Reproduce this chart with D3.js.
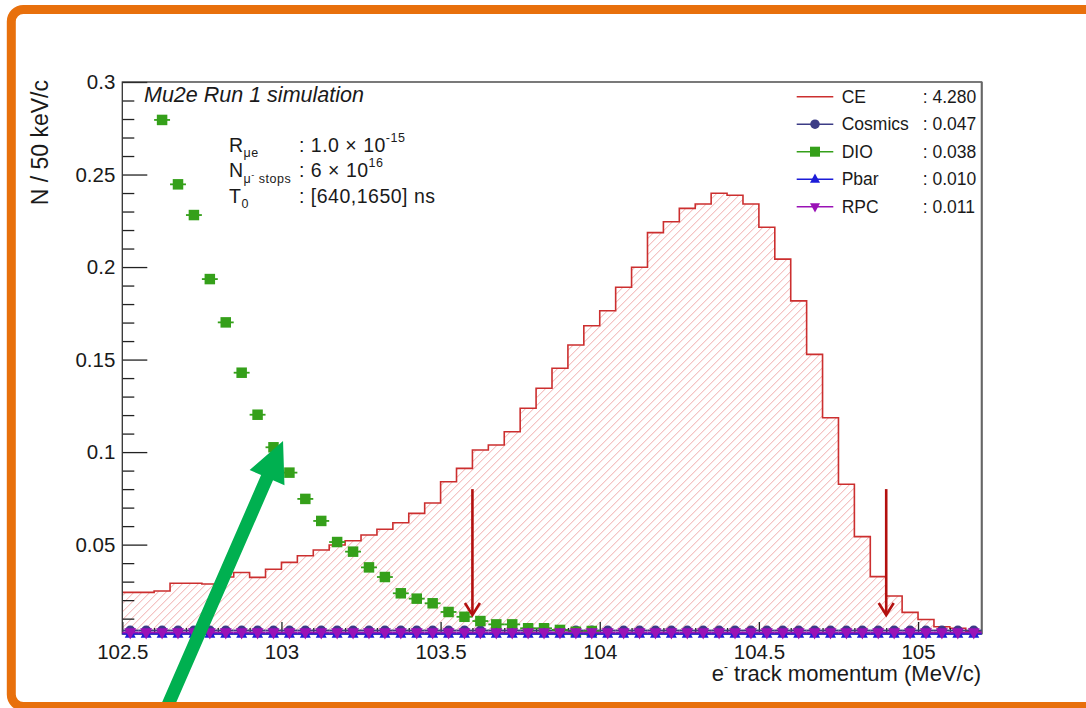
<!DOCTYPE html>
<html><head><meta charset="utf-8">
<script src="https://cdn.jsdelivr.net/npm/d3@7"></script>
<style>
body{margin:0;background:#fff}
svg{display:block}
text{font-family:"Liberation Sans", Arial, Helvetica, sans-serif}
</style>
</head><body>
<svg id="c" width="1086" height="708"></svg>
<script>
// ---------------- data ----------------
const binStart = 102.5;
const binWidth = 0.05;
const ceValues = [0.0242, 0.0242, 0.0249, 0.0291, 0.0291, 0.0287, 0.0325, 0.0349, 0.0323, 0.0367,
  0.0404, 0.0440, 0.0471, 0.0498, 0.0521, 0.0552, 0.0583, 0.0618, 0.0669, 0.0725,
  0.0840, 0.0912, 0.1011, 0.1038, 0.1110, 0.1237, 0.1345, 0.1453, 0.1579, 0.1683,
  0.1764, 0.1891, 0.1999, 0.2186, 0.2245, 0.2317, 0.2341, 0.2399, 0.2388, 0.2341,
  0.2215, 0.2043, 0.1817, 0.1528, 0.1186, 0.0826, 0.0543, 0.0327, 0.0222, 0.0134,
  0.0095, 0.0056, 0.0048, 0.0029];
const dioFirstBin = 2;
const dioValues = [0.2795, 0.2447, 0.2281, 0.1935, 0.1701, 0.1429, 0.1202, 0.1026, 0.0889, 0.0747,
  0.0628, 0.0514, 0.0462, 0.0377, 0.0325, 0.0237, 0.0208, 0.0183, 0.0136, 0.0110,
  0.0087, 0.0069, 0.0069, 0.0048, 0.0048, 0.0039, 0.0029, 0.0033];
const cosmicsValues = [0.0036,0.0036,0.0036,0.0036,0.0036,0.0036,0.0036,0.0036,0.0036,0.0036,
  0.0036,0.0036,0.0036,0.0036,0.0036,0.0036,0.0036,0.0036,0.0036,0.0036,
  0.0036,0.0036,0.0036,0.0036,0.0036,0.0036,0.0036,0.0036,0.0036,0.0036,
  0.0036,0.0036,0.0036,0.0036,0.0036,0.0036,0.0036,0.0036,0.0036,0.0036,
  0.0036,0.0036,0.0036,0.0036,0.0036,0.0036,0.0036,0.0036,0.0036,0.0036,
  0.0036,0.0036,0.0036,0.0036];
const pbarValues = [0.0018,0.0018,0.0018,0.0018,0.0018,0.0018,0.0018,0.0018,0.0018,0.0018,
  0.0018,0.0018,0.0018,0.0018,0.0018,0.0018,0.0018,0.0018,0.0018,0.0018,
  0.0018,0.0018,0.0018,0.0018,0.0018,0.0018,0.0018,0.0018,0.0018,0.0018,
  0.0018,0.0018,0.0018,0.0018,0.0018,0.0018,0.0018,0.0018,0.0018,0.0018,
  0.0018,0.0018,0.0018,0.0018,0.0018,0.0018,0.0018,0.0018,0.0018,0.0018,
  0.0018,0.0018,0.0018,0.0018];
const rpcValues = [0.0025,0.0025,0.0025,0.0025,0.0025,0.0025,0.0025,0.0025,0.0025,0.0025,
  0.0025,0.0025,0.0025,0.0025,0.0025,0.0025,0.0025,0.0025,0.0025,0.0025,
  0.0025,0.0025,0.0025,0.0025,0.0025,0.0025,0.0025,0.0025,0.0025,0.0025,
  0.0025,0.0025,0.0025,0.0025,0.0025,0.0025,0.0025,0.0025,0.0025,0.0025,
  0.0025,0.0025,0.0025,0.0025,0.0025,0.0025,0.0025,0.0025,0.0025,0.0025,
  0.0025,0.0025,0.0025,0.0025];
const xTickValues = [102.5, 103, 103.5, 104, 104.5, 105];
const xTickLabels = ["102.5", "103", "103.5", "104", "104.5", "105"];
const yTickValues = [0.05, 0.1, 0.15, 0.2, 0.25, 0.3];
const yTickLabels = ["0.05", "0.1", "0.15", "0.2", "0.25", "0.3"];
const legendNames = ["CE", "Cosmics", "DIO", "Pbar", "RPC"];
const legendYields = [": 4.280", ": 0.047", ": 0.038", ": 0.010", ": 0.011"];
const cutArrowX = [103.6, 104.9];
const cutArrowY = [0.08, 0.012];
const pointerTip = [103.005, 0.106];
const pointerTail = [102.63, -0.042];

// ---------------- layout / styles ----------------
const svg = d3.select("#c");
const x = d3.scaleLinear().domain([102.5, 105.2]).range([122.3, 981.7]);
const y = d3.scaleLinear().domain([0.0017, 0.3]).range([634, 82]);
const col = {CE:"#cc2f2f", Cosmics:"#3c3c86", DIO:"#35a01a", Pbar:"#1c1cd8", RPC:"#9a12b6"};
const X0 = x.range()[0], X1 = x.range()[1], Y0 = y.range()[0], Y1 = y.range()[1];

svg.append("rect").attr("width",1086).attr("height",708).attr("fill","#fff");

// ---------------- CE histogram ----------------
const ceEdges = ceValues.map((v,i)=>({e: binStart + i*binWidth, v}));
ceEdges.push({e: binStart + ceValues.length*binWidth, v: ceValues[ceValues.length-1]});
const area = d3.area().curve(d3.curveStepAfter).x(d=>x(d.e)).y0(Y0).y1(d=>y(d.v));
const line = d3.line().curve(d3.curveStepAfter).x(d=>x(d.e)).y(d=>y(d.v));
const defs = svg.append("defs");
defs.append("clipPath").attr("id","ceClip").append("path").datum(ceEdges).attr("d",area);
const hatchG = svg.append("g").attr("clip-path","url(#ceClip)");
hatchG.selectAll("line").data(d3.range(X0-(Y0-Y1)-8, X1+8, 8)).enter().append("line")
  .attr("x1",d=>d).attr("y1",Y0+2).attr("x2",d=>d+(Y0-Y1)+4).attr("y2",Y1-2)
  .attr("stroke","#eea3a3").attr("stroke-width",0.9);
svg.append("path").datum(ceEdges).attr("d",line).attr("fill","none")
  .attr("stroke",col.CE).attr("stroke-width",1.6);

// ---------------- axes ----------------
const axisFont = g => g.selectAll("text").attr("font-size",20.5).attr("fill","#1a1a1a")
  .attr("font-family","Liberation Sans, Arial, sans-serif");
const minorX = d3.range(26).map(i=>102.6 + i*0.1).filter(v=>Math.abs(v*2-Math.round(v*2))>1e-6);
const gx = svg.append("g").attr("transform",`translate(0,${Y0})`);
gx.call(d3.axisBottom(x).tickValues(minorX).tickSizeInner(-6).tickSizeOuter(0).tickFormat(""));
gx.select(".domain").remove();
const gx2 = svg.append("g").attr("transform",`translate(0,${Y0})`);
gx2.call(d3.axisBottom(x).tickValues(xTickValues).tickSizeInner(-12).tickSizeOuter(0)
  .tickPadding(10).tickFormat((d,i)=>xTickLabels[i]));
gx2.select(".domain").remove();
gx2.call(axisFont);

const minorY = d3.range(1,30).map(i=>i*0.01).filter(v=>Math.abs(v*20-Math.round(v*20))>1e-6);
const gy = svg.append("g").attr("transform",`translate(${X0},0)`);
gy.call(d3.axisLeft(y).tickValues(minorY).tickSizeInner(-12).tickSizeOuter(0).tickFormat(""));
gy.select(".domain").remove();
const gy2 = svg.append("g").attr("transform",`translate(${X0},0)`);
gy2.call(d3.axisLeft(y).tickValues(yTickValues).tickSizeInner(-25).tickSizeOuter(0)
  .tickPadding(7).tickFormat((d,i)=>yTickLabels[i]));
gy2.select(".domain").remove();
gy2.call(axisFont);
svg.selectAll(".tick line").attr("stroke","#222").attr("stroke-width",1.3);

// frame
svg.append("rect").attr("x",X0).attr("y",Y1).attr("width",X1-X0).attr("height",Y0-Y1)
  .attr("fill","none").attr("stroke","#333").attr("stroke-width",1.3);
svg.append("line").attr("x1",X1).attr("x2",X1).attr("y1",Y1).attr("y2",Y0)
  .attr("stroke","#666").attr("stroke-width",2);

// ---------------- markers ----------------
const binCenter = i => binStart + (i+0.5)*binWidth;
const halfPx = (x(binStart+binWidth)-x(binStart))/2;
function markerPath(shape, s){
  if(shape==="circle") return d3.symbol(d3.symbolCircle, s*s*0.785)();
  if(shape==="square") return `M${-s/2},${-s/2}h${s}v${s}h${-s}Z`;
  if(shape==="up") return `M0,${-s*0.58}L${s/2},${s*0.35}L${-s/2},${s*0.35}Z`;
  return `M0,${s*0.58}L${s/2},${-s*0.35}L${-s/2},${-s*0.35}Z`;
}
function drawSeries(vals, firstBin, color, shape, size){
  const pts = vals.map((v,i)=>({c: binCenter(firstBin+i), v})).filter(d=>d.v>=y.domain()[0]);
  const g = svg.append("g");
  g.selectAll("line").data(pts).enter().append("line")
    .attr("x1",d=>x(d.c)-halfPx).attr("x2",d=>x(d.c)+halfPx)
    .attr("y1",d=>y(d.v)).attr("y2",d=>y(d.v))
    .attr("stroke",color).attr("stroke-width",1.8);
  g.selectAll("path").data(pts).enter().append("path")
    .attr("transform",d=>`translate(${x(d.c)},${y(d.v)})`)
    .attr("d",markerPath(shape,size)).attr("fill",color);
}
drawSeries(cosmicsValues, 0, col.Cosmics, "circle", 10);
drawSeries(dioValues, dioFirstBin, col.DIO, "square", 10.5);
drawSeries(pbarValues, 0, col.Pbar, "up", 11);
drawSeries(rpcValues, 0, col.RPC, "down", 12);

// ---------------- cut arrows ----------------
cutArrowX.forEach(cx=>{
  const px = x(cx), ya = y(cutArrowY[0]), yb = y(cutArrowY[1]);
  svg.append("line").attr("x1",px).attr("x2",px).attr("y1",ya).attr("y2",yb)
    .attr("stroke","#b3100f").attr("stroke-width",2.6);
  svg.append("path").attr("d",`M${px-7.5},${yb-12}L${px},${yb}L${px+7.5},${yb-12}`)
    .attr("fill","none").attr("stroke","#b3100f").attr("stroke-width",2.6);
});

// ---------------- texts ----------------
svg.append("text").attr("x",144).attr("y",102).attr("font-size",21.5)
  .attr("font-style","italic").attr("fill","#1a1a1a").text("Mu2e Run 1 simulation");

const ann = svg.append("g").attr("font-size",19.5).attr("letter-spacing",0.5).attr("fill","#1a1a1a");
let t = ann.append("text").attr("x",229).attr("y",151.7);
t.append("tspan").text("R");
t.append("tspan").attr("font-size",12.5).attr("dy",5).text("μe");
t = ann.append("text").attr("x",299).attr("y",151.7);
t.append("tspan").text(": 1.0 × 10");
t.append("tspan").attr("font-size",12.5).attr("dy",-10).text("-15");

t = ann.append("text").attr("x",229).attr("y",177);
t.append("tspan").text("N");
t.append("tspan").attr("font-size",12.5).attr("dy",6).text("μ");
t.append("tspan").attr("font-size",9).attr("dy",-5).text("-");
t.append("tspan").attr("font-size",12.5).attr("dy",5).text(" stops");
t = ann.append("text").attr("x",299).attr("y",177);
t.append("tspan").text(": 6 × 10");
t.append("tspan").attr("font-size",12.5).attr("dy",-10).text("16");

t = ann.append("text").attr("x",229).attr("y",203);
t.append("tspan").text("T");
t.append("tspan").attr("font-size",12.5).attr("dy",5).text("0");
ann.append("text").attr("x",299).attr("y",203).text(": [640,1650] ns");

// axis titles
svg.append("text").attr("transform","translate(48,80) rotate(-90)").attr("text-anchor","end")
  .attr("font-size",23).attr("fill","#1a1a1a").text("N / 50 keV/c");
t = svg.append("text").attr("x",981).attr("y",681).attr("text-anchor","end")
  .attr("font-size",22).attr("fill","#1a1a1a");
t.append("tspan").text("e");
t.append("tspan").attr("font-size",12).attr("dy",-10).text("-");
t.append("tspan").attr("dy",10).text(" track momentum (MeV/c)");

// ---------------- legend ----------------
const legendShapes = [null, "circle", "square", "up", "down"];
const lg = svg.append("g");
legendNames.forEach((n,i)=>{
  const cy = 96.7 + i*27.5;
  lg.append("line").attr("x1",796.7).attr("x2",833.3).attr("y1",cy).attr("y2",cy)
    .attr("stroke",col[n]).attr("stroke-width",1.6);
  if(legendShapes[i]) lg.append("path").attr("transform",`translate(815,${cy})`)
    .attr("d",markerPath(legendShapes[i], legendShapes[i]==="circle"?9.5:10)).attr("fill",col[n]);
  lg.append("text").attr("x",841.7).attr("y",cy+6.2).attr("font-size",17.5).attr("fill","#1a1a1a").text(n);
  lg.append("text").attr("x",922.7).attr("y",cy+6.2).attr("font-size",17.5).attr("fill","#1a1a1a").text(legendYields[i]);
});

// ---------------- overlay pointer arrow + orange border ----------------
(function(){
  const T = [x(pointerTip[0]), y(pointerTip[1])], B = [x(pointerTail[0]), y(pointerTail[1])];
  const dx = T[0]-B[0], dy = T[1]-B[1], L = Math.hypot(dx,dy);
  const u = [dx/L, dy/L], n = [-u[1], u[0]];
  const hl = 40, hw = 19, sw = 6.5;
  const H = [T[0]-hl*u[0], T[1]-hl*u[1]];
  const p = (P,k)=>[P[0]+k*n[0], P[1]+k*n[1]];
  const pts = [p(B,-sw), p(H,-sw), p(H,-hw), T, p(H,hw), p(H,sw), p(B,sw)];
  svg.append("path").attr("d","M"+pts.map(q=>q.join(",")).join("L")+"Z").attr("fill","#00b050");
})();
svg.append("rect").attr("x",11.3).attr("y",9.5).attr("width",1200).attr("height",697)
  .attr("rx",12).attr("fill","none").attr("stroke","#e8700c").attr("stroke-width",9);
</script>
</body></html>
